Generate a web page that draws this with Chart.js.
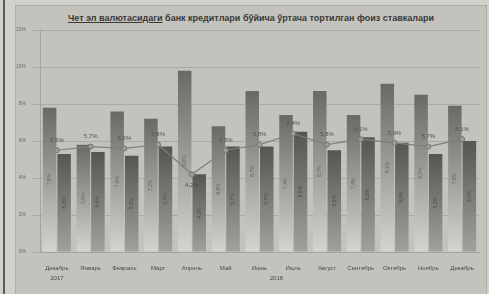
<!DOCTYPE html>
<html>
<head>
<meta charset="utf-8">
<script src="https://cdn.jsdelivr.net/npm/chart.js@4/dist/chart.umd.min.js"></script>
<style>
  body { margin: 0; background: #d2d0cb; width: 489px; height: 294px; overflow: hidden; position: relative; }
  #rule { position: absolute; left: 3px; top: 0; width: 2px; height: 294px; background: #5e5c58; }
  #box { position: absolute; left: 15px; top: 5px; width: 470px; height: 300px; background: #c4c2bc; border: 1px solid #aeaca6; }
  #title { position: absolute; left: 0; top: 7px; width: 100%; text-align: center;
           font: bold 9px "Liberation Sans", Arial, sans-serif; color: #3a3936; }
  #wrap { position: absolute; left: 0; top: 0; width: 489px; height: 294px; }
</style>
</head>
<body>
<div id="rule"></div>
<div id="box">
  <div id="title"><u>Чет эл валютасидаги</u> банк кредитлари бўйича ўртача тортилган фоиз ставкалари</div>
</div>
<div id="wrap"><canvas id="rateChart" width="489" height="294"></canvas></div>
<script>
const months = ["Декабрь", "Январь", "Февраль", "Март", "Апрель", "Май", "Июнь",
  "Июль", "Август", "Сентябрь", "Октябрь", "Ноябрь", "Декабрь"];
const years = ["2017", "2018"];
const seriesA = [7.8, 5.8, 7.6, 7.2, 9.8, 6.8, 8.7, 7.4, 8.7, 7.4, 9.1, 8.5, 7.9];
const seriesB = [5.3, 5.4, 5.2, 5.7, 4.2, 5.7, 5.7, 6.5, 5.5, 6.2, 5.9, 5.3, 6.0];
const avgRate = [5.5, 5.7, 5.6, 5.8, 4.2, 5.5, 5.8, 6.4, 5.8, 6.1, 5.9, 5.7, 6.1];
const yTicks = [0, 2, 4, 6, 8, 10, 12];

const FONT = "'Liberation Sans', Arial, sans-serif";
const pct = v => v.toFixed(1).replace(".", ",") + "%";

// gradient per bar, dark top -> light bottom
function barFill(top, bottom) {
  return c => {
    const ch = c.chart;
    if (!ch.chartArea || c.type !== "data") return bottom;
    const y = ch.scales.y;
    const g = ch.ctx.createLinearGradient(0, y.getPixelForValue(c.raw), 0, y.getPixelForValue(0));
    g.addColorStop(0, top);
    g.addColorStop(1, bottom);
    return g;
  };
}

const labelsPlugin = {
  id: "labels",
  afterDatasetsDraw(chart) {
    const ctx = chart.ctx;
    ctx.save();
    ctx.textAlign = "center";
    ctx.textBaseline = "middle";
    // rotated values inside bars
    [0, 1].forEach(d => {
      chart.getDatasetMeta(d).data.forEach((bar, i) => {
        ctx.save();
        ctx.translate(bar.x, (bar.y + bar.base) / 2);
        ctx.rotate(-Math.PI / 2);
        ctx.font = "5px " + FONT;
        ctx.fillStyle = d === 0 ? "#64625e" : "#4a4946";
        ctx.fillText(pct(chart.data.datasets[d].data[i]), 0, 0);
        ctx.restore();
      });
    });
    // line point labels
    ctx.font = "6px " + FONT;
    ctx.fillStyle = "#51504c";
    const pts = chart.getDatasetMeta(2).data;
    pts.forEach((p, i) => {
      const v = avgRate[i];
      const dip = i > 0 && i < avgRate.length - 1 && v < avgRate[i - 1] - 0.5 && v < avgRate[i + 1] - 0.5;
      ctx.fillText(pct(v), p.x, dip ? p.y + 11 : p.y - 10);
    });
    ctx.restore();
  },
  afterDraw(chart) {
    const ctx = chart.ctx;
    const x = chart.scales.x;
    ctx.save();
    ctx.font = "6px " + FONT;
    ctx.fillStyle = "#4a4946";
    ctx.textAlign = "center";
    ctx.textBaseline = "middle";
    ctx.fillText(years[0], x.getPixelForValue(0), 278);
    ctx.fillText(years[1], (x.getPixelForValue(1) + x.getPixelForValue(months.length - 1)) / 2, 278);
    ctx.restore();
  }
};

new Chart(document.getElementById("rateChart"), {
  type: "bar",
  data: {
    labels: months,
    datasets: [
      {
        data: seriesA,
        backgroundColor: barFill("#6b6965", "#d6d4cf"),
        categoryPercentage: 0.86,
        barPercentage: 0.93,
        order: 2
      },
      {
        data: seriesB,
        backgroundColor: barFill("#575552", "#a3a19c"),
        categoryPercentage: 0.86,
        barPercentage: 0.93,
        order: 2
      },
      {
        type: "line",
        data: avgRate,
        borderColor: "#7f7d79",
        borderWidth: 1.2,
        pointRadius: 2.5,
        pointBackgroundColor: "#9e9c97",
        pointBorderColor: "#75736f",
        pointBorderWidth: 1,
        tension: 0,
        order: 0
      }
    ]
  },
  options: {
    responsive: false,
    animation: false,
    devicePixelRatio: 1,
    layout: { padding: { top: 30, right: 10, left: 0, bottom: 0 } },
    plugins: { legend: { display: false }, tooltip: { enabled: false } },
    scales: {
      x: {
        grid: { display: false },
        border: { color: "#a6a49e" },
        ticks: { color: "#4a4946", font: { size: 6, family: FONT }, maxRotation: 0, autoSkip: false, padding: 5 },
        afterFit: s => { s.height = 42; }
      },
      y: {
        min: 0,
        max: 12,
        afterBuildTicks: s => { s.ticks = yTicks.map(v => ({ value: v })); },
        grid: { color: "#aba9a3", lineWidth: 1 },
        border: { color: "#a6a49e" },
        ticks: { color: "#6a6864", font: { size: 5, family: FONT }, padding: 6, callback: v => v + "%" },
        afterFit: s => { s.width = 40; }
      }
    }
  },
  plugins: [labelsPlugin]
});
</script>
</body>
</html>
